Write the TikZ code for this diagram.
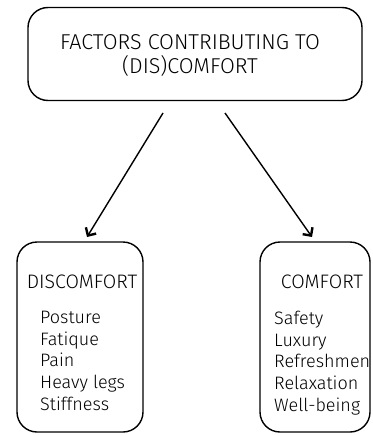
\documentclass[tikz,border=0pt]{standalone}
\usepackage{fontspec}
\setmainfont{Fira Sans}[UprightFont=* Light]
\usetikzlibrary{arrows.meta}
\begin{document}
\begin{tikzpicture}[x=1pt,y=-1pt,
  panel/.style={draw, line width=1.4pt, rounded corners=20pt, inner sep=0pt},
  head/.style={font=\fontsize{19.5}{24}\selectfont, align=center, inner sep=0pt},
  items/.style={font=\fontsize{18}{21.7}\selectfont, align=left, anchor=north west, inner sep=0pt},
  link/.style={line width=1.4pt, -{Straight Barb[length=6pt,width=12pt,line width=2.4pt]}}]
  \useasboundingbox (0,0) rectangle (372,436);
  \clip (0,0) rectangle (372,436);
  % top box
  \node[panel, minimum width=334pt, minimum height=93pt] (top) at (195,54) {};
  \node[head, font=\fontsize{21.5}{24}\selectfont] (title) at (190,55) {FACTORS CONTRIBUTING TO\\(DIS)COMFORT};
  % lower boxes
  \node[panel, minimum width=126pt, minimum height=190pt] (dis) at (80,337) {};
  \node[panel, minimum width=110pt, minimum height=190pt] (com) at (315,337) {};
  \node[head] (dish) at (82,282) {DISCOMFORT};
  \node[head] (comh) at (322,282) {COMFORT};
  \node[items] (disl) at (40,311) {Posture\\Fatique\\Pain\\Heavy legs\\Stiffness};
  \node[items] (coml) at (274,311) {Safety\\Luxury\\Refreshmen\\Relaxation\\Well-being};
  % connectors
  \coordinate (a1) at (163,113);
  \coordinate (a2) at (87,237);
  \coordinate (b1) at (225,113);
  \coordinate (b2) at (312,237);
  \draw[link] (a1) -- (a2);
  \draw[link] (b1) -- (b2);
\end{tikzpicture}
\end{document}
